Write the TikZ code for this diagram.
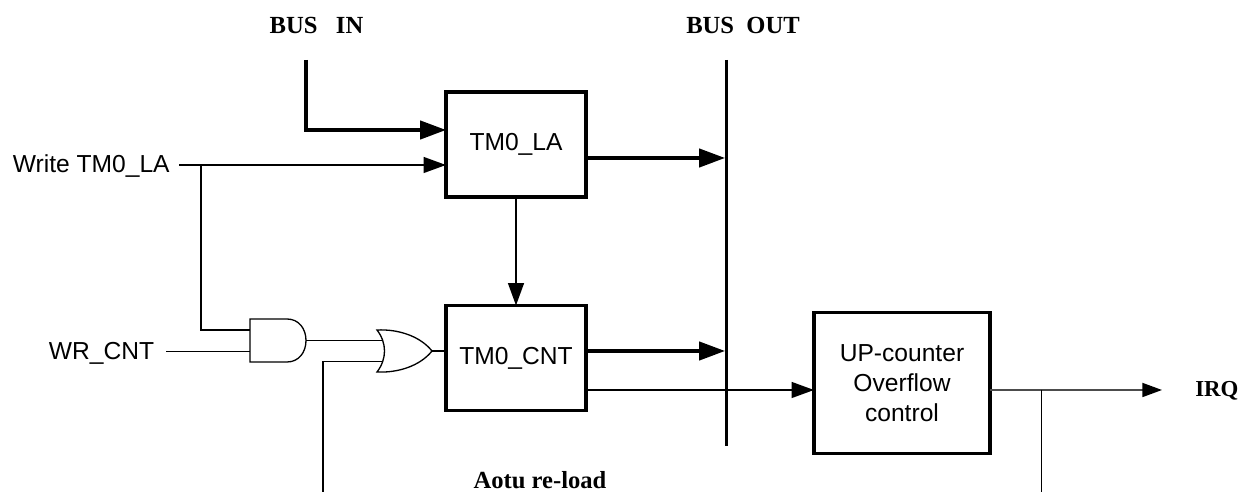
\documentclass[tikz,border=0pt]{standalone}
\usepackage{fontspec}
\setmainfont{Liberation Sans}
\newfontfamily\timesbf[BoldFont={Liberation Serif Bold}]{Liberation Serif}
\usetikzlibrary{arrows.meta}
\tikzset{
	block/.style={draw, line width=1.75pt, minimum width=2.8cm, minimum height=2.1cm, align=center, inner sep=0pt, outer sep=0pt, font=\fontsize{14}{17}\selectfont},
	sigtext/.style={font=\fontsize{14}{16}\selectfont, inner sep=0pt},
	bustext/.style={font=\fontsize{14}{16}\selectfont\timesbf\bfseries, inner sep=0pt},
	bigline/.style={line width=1.85pt, -{Triangle[length=14.7pt,width=10.4pt]}},
	midline/.style={line width=1.2pt, -{Triangle[length=12.8pt,width=9pt]}},
	gateline/.style={line width=0.75pt},
	wire/.style={line width=0.85pt}
}
\begin{document}
\begin{tikzpicture}[x=0.02cm, y=-0.02cm]
	\useasboundingbox (0,0) rectangle (1242,492);
	% Bloques
		\node[block] (tmla) at (516,144.5) {TM0\_LA};
		\node[block] (tmcnt) at (516,358) {TM0\_CNT};
		\node[block, minimum width=3.52cm, minimum height=2.81cm] (upcnt) at (902,383) {UP-counter\\Overflow\\control};
	% Textos
		\node[bustext] (busin) at (316.5,25) {BUS\ \ \ IN};
		\node[bustext] (busout) at (743,25) {BUS\ \ OUT};
		\node[sigtext, anchor=east] (wrla) at (170,166) {Write TM0\_LA};
		\node[sigtext, anchor=east] (wrcnt) at (154.5,353) {WR\_CNT};
		\node[bustext, anchor=west, font=\fontsize{13}{15}\selectfont\timesbf\bfseries] (irq) at (1195,391) {IRQ};
		\node[bustext] (reload) at (540,480) {Aotu re-load};
	% Puntos
		\coordinate (busintop) at (306,60);
		\coordinate (buscorner) at (306,130);
		\coordinate (lain) at (446,130);
		\coordinate (wrstart) at (179,165);
		\coordinate (wrin) at (446,165);
		\coordinate (wrsplit) at (201,165);
		\coordinate (wrcorner) at (201,330);
		\coordinate (andin) at (250,330);
		\coordinate (cntstart) at (166,351.5);
		\coordinate (andtwo) at (250,351.5);
		\coordinate (andout) at (306,340.5);
		\coordinate (orin) at (383,340.5);
		\coordinate (ortwo) at (383,361.5);
		\coordinate (orout) at (432,351);
		\coordinate (reloadcorner) at (323,361.5);
		\coordinate (reloadend) at (323,492);
		\coordinate (bustop) at (726.5,60);
		\coordinate (busend) at (726.5,446);
		\coordinate (busa) at (725,158);
		\coordinate (busb) at (725,351);
		\coordinate (irqsplit) at (1041.5,390);
		\coordinate (irqend) at (1041.5,492);
		\coordinate (irqtip) at (1162,390);
	% Bus de salida
		\draw[line width=1.9pt] (bustop) -- (busend);
	% Compuertas
		\draw[gateline] (250,319) -- (287,319) .. controls (299,319) and (306,329) .. (306,340.5) .. controls (306,352) and (299,362) .. (287,362) -- (250,362) -- cycle;
		\draw[gateline] (377,330) .. controls (398,329) and (420,336) .. (432,351) .. controls (420,366) and (398,373) .. (377,372) .. controls (387,359) and (387,343) .. (377,330) -- cycle;
	% Lineas
		\draw[bigline] (busintop) -- (buscorner) -- (lain);
		\draw[midline] (wrstart) -- (wrin);
		\draw[wire] (wrsplit) -- (wrcorner) -- (andin);
		\draw[wire] (cntstart) -- (andtwo);
		\draw[wire] (andout) -- (orin);
		\draw[wire] (reloadend) -- (reloadcorner) -- (ortwo);
		\draw[wire] (orout) -- (tmcnt.west |- orout);
		\draw[bigline] (tmla.east |- busa) -- (busa);
		\draw[midline] (tmla) -- (tmcnt);
		\draw[bigline] (tmcnt.east |- busb) -- (busb);
		\draw[midline] (tmcnt.east |- irqsplit) -- (upcnt.west |- irqsplit);
		\draw[line width=0.9pt, black!70, -{Triangle[length=11.2pt,width=8pt,black]}] (upcnt.east |- irqsplit) -- (irqtip);
		\draw[gateline] (irqsplit) -- (irqend);
\end{tikzpicture}
\end{document}
